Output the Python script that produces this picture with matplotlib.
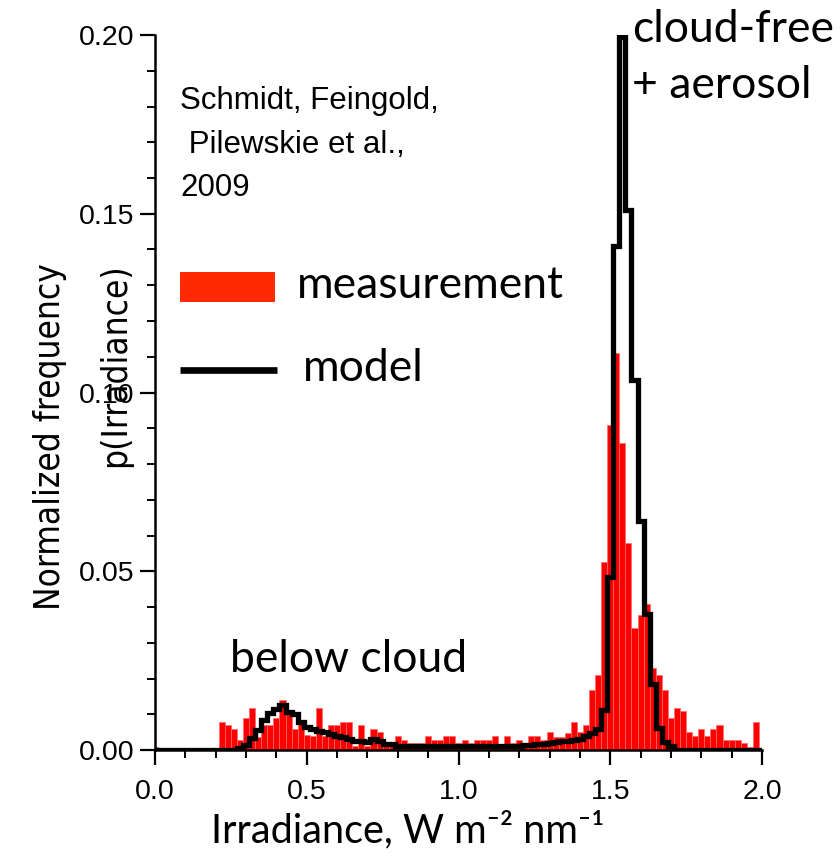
import numpy as np
import matplotlib
matplotlib.use('Agg')
import matplotlib.pyplot as plt
from matplotlib.patches import Rectangle
from matplotlib import font_manager as fm

plt.rcParams['font.family'] = 'Liberation Sans'

# histogram bins: width 0.02, centred on multiples of 0.02
bin_width = 0.02
bin_centers = np.arange(101) * bin_width

# measured normalized frequency (red bars)
measurement = [
    0.0008, 0, 0, 0, 0, 0, 0, 0, 0, 0,
    0, 0.0078, 0.0071, 0.0059, 0.0028, 0.0089, 0.0117, 0.0035, 0.0070, 0.0070,
    0.0089, 0.0140, 0.0107, 0.0058, 0.0075, 0.0042, 0.0040, 0.0118, 0.0040, 0.0070,
    0.0070, 0.0078, 0.0078, 0.0012, 0.0070, 0.0010, 0.0059, 0.0049, 0.0020, 0.0020,
    0.0039, 0.0028, 0.0020, 0.0020, 0.0020, 0.0039, 0.0028, 0.0028, 0.0039, 0.0039,
    0.0019, 0.0028, 0.0019, 0.0028, 0.0028, 0.0028, 0.0039, 0.0015, 0.0039, 0.0019,
    0.0028, 0.0015, 0.0039, 0.0039, 0.0028, 0.0050, 0.0037, 0.0037, 0.0047, 0.0079,
    0.0051, 0.0070, 0.0168, 0.0210, 0.0527, 0.0910, 0.1110, 0.0858, 0.0578, 0.0340,
    0.0378, 0.0408, 0.0228, 0.0210, 0.0168, 0.0089, 0.0117, 0.0109, 0.0049, 0.0039,
    0.0059, 0.0039, 0.0059, 0.0070, 0.0028, 0.0028, 0.0028, 0.0019, 0.0007, 0.0077,
    0,
]

# modelled normalized frequency (black step line)
model = [
    0, 0, 0, 0, 0, 0, 0, 0, 0, 0,
    0, 0, 0, 0, 0.0005, 0.0014, 0.0033, 0.0056, 0.0084, 0.0104,
    0.0114, 0.0126, 0.0105, 0.0100, 0.0079, 0.0065, 0.0058, 0.0054, 0.0050, 0.0046,
    0.0040, 0.0036, 0.0030, 0.0024, 0.0024, 0.0023, 0.0032, 0.0024, 0.0017, 0.0016,
    0.0012, 0.0012, 0.0012, 0.0012, 0.0012, 0.0012, 0.0012, 0.0010, 0.0010, 0.0010,
    0.0010, 0.0010, 0.0010, 0.0010, 0.0010, 0.0010, 0.0010, 0.0010, 0.0010, 0.0010,
    0.0010, 0.0014, 0.0015, 0.0016, 0.0018, 0.0020, 0.0022, 0.0024, 0.0025, 0.0028,
    0.0032, 0.0040, 0.0048, 0.0060, 0.0112, 0.0485, 0.1410, 0.1995, 0.1510, 0.1035,
    0.0640, 0.0380, 0.0186, 0.0061, 0.0023, 0.0010, 0, 0, 0, 0,
    0, 0, 0, 0, 0, 0, 0, 0, 0, 0,
    0,
]

x_ticks = [0.0, 0.5, 1.0, 1.5, 2.0]
y_ticks = [0.00, 0.05, 0.10, 0.15, 0.20]

label_font = ['Lato', 'DejaVu Sans']


def narrow_font():
    # the y label is set in a narrow face; use one if the system has it
    fonts = [f for f in fm.fontManager.ttflist
             if f.style == 'normal' and f.weight in (400, 'normal', 'regular')]
    for f in fonts:
        if f.name == 'Liberation Sans Narrow':
            return fm.FontProperties(fname=f.fname)
    for fam in ['Noto Sans', 'Open Sans', 'DejaVu Sans', 'Roboto']:
        for f in fonts:
            if f.name.startswith(fam) and (f.stretch in ('condensed', 'semi-condensed')
                                           or 'Condensed' in f.name):
                return fm.FontProperties(fname=f.fname)
    return fm.FontProperties(family='Liberation Sans')


fig = plt.figure(figsize=(8.4, 8.58), dpi=100)
ax = fig.add_axes([155 / 840, 1 - 750 / 858, 607 / 840, 715 / 858])

ax.bar(bin_centers, measurement, width=bin_width, color='#ff0000',
       edgecolor='#ff6a6a', linewidth=0.5, zorder=2)
edges = np.append(bin_centers - bin_width / 2, bin_centers[-1] + bin_width / 2)
ax.stairs(model, edges, color='black', linewidth=3.8, baseline=None, zorder=3)

ax.set_xlim(0, 2.0)
ax.set_ylim(0, 0.20)
ax.set_xticks(x_ticks)
ax.set_xticklabels(['%.1f' % t for t in x_ticks])
ax.set_yticks(y_ticks)
ax.set_yticklabels(['%.2f' % t for t in y_ticks])
ax.set_xticks(np.arange(0, 2.001, 0.1), minor=True)
ax.set_yticks(np.arange(0, 0.2001, 0.01), minor=True)
ax.tick_params(which='major', direction='out', length=11, width=1.6, labelsize=20.5)
ax.tick_params(which='minor', direction='out', length=6, width=1.4)
ax.tick_params(axis='x', pad=10)
ax.tick_params(axis='y', pad=4)
for side in ['top', 'right']:
    ax.spines[side].set_visible(False)
for side in ['left', 'bottom']:
    ax.spines[side].set_linewidth(1.8)

# citation
ax.text(0.041, 0.928, 'Schmidt, Feingold,\n Pilewskie et al.,\n2009', transform=ax.transAxes,
        fontsize=22.5, va='top', ha='left', linespacing=1.58)

# hand-made legend
ax.add_patch(Rectangle((0.041, 0.627), 0.157, 0.042, transform=ax.transAxes,
                       facecolor='#ff2a00', edgecolor='none', clip_on=False))
ax.plot([0.041, 0.201], [0.531, 0.531], transform=ax.transAxes, color='black',
        linewidth=4.8, clip_on=False, solid_capstyle='butt')
ax.text(0.234, 0.650, 'measurement', transform=ax.transAxes, fontsize=32,
        family=label_font, va='center', ha='left')
ax.text(0.244, 0.534, 'model', transform=ax.transAxes, fontsize=32,
        family=label_font, va='center', ha='left')

ax.text(0.1236, 0.126, 'below cloud', transform=ax.transAxes, fontsize=32,
        family=label_font, va='center', ha='left')
ax.text(0.786, 1.007, 'cloud-free', transform=ax.transAxes, fontsize=32,
        family=label_font, va='center', ha='left')
ax.text(0.786, 0.930, '+ aerosol', transform=ax.transAxes, fontsize=32,
        family=label_font, va='center', ha='left')

fig.text(408 / 840, 1 - 830 / 858, 'Irradiance, W m\u207b\u00b2 nm\u207b\u00b9',
         fontsize=28.5, family=label_font, ha='center', va='center')

# y label: two rotated lines, both ending at the same height
prop = narrow_font()
yl1 = fig.text(50 / 840, 1 - 263 / 858, 'Normalized frequency', rotation=90,
               fontproperties=prop, fontsize=31, ha='center', va='top')
yl2 = fig.text(115 / 840, 1 - 263 / 858, 'p(Irradiance)', rotation=90,
               fontproperties=prop, fontsize=31, ha='center', va='top')
fig.canvas.draw()
length = yl1.get_window_extent().height
scale = 345.0 / length
yl1.set_fontsize(31 * scale)
yl2.set_fontsize(31 * scale)

fig.savefig('out.png', dpi=100)
